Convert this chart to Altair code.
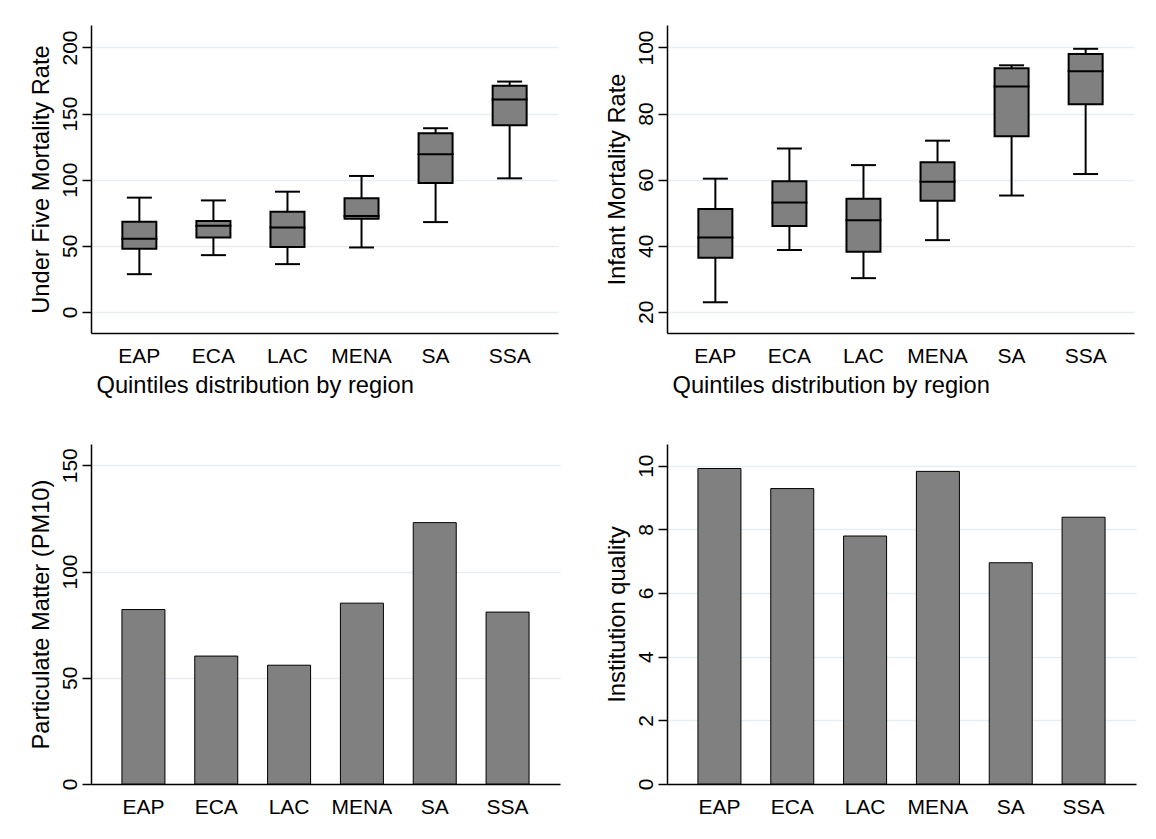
import altair as alt
import pandas as pd

regions = ["EAP", "ECA", "LAC", "MENA", "SA", "SSA"]

# Under five mortality rate: whisker low, q1, median, q3, whisker high
u5_lo = [28.5, 42.9, 36.1, 48.7, 67.9, 101.0]
u5_q1 = [47.7, 56.3, 49.0, 70.5, 97.5, 141.2]
u5_med = [55.3, 65.2, 63.9, 72.5, 119.2, 160.6]
u5_q3 = [68.2, 68.7, 75.8, 85.9, 135.1, 171.0]
u5_hi = [86.4, 84.3, 90.9, 102.8, 138.9, 174.2]

# Infant mortality rate
imr_lo = [22.9, 38.7, 30.2, 41.7, 55.2, 61.7]
imr_q1 = [36.4, 46.0, 38.2, 53.6, 73.1, 82.8]
imr_med = [42.5, 53.1, 47.7, 59.4, 88.2, 92.8]
imr_q3 = [51.1, 59.5, 54.2, 65.3, 93.7, 98.0]
imr_hi = [60.3, 69.4, 64.4, 71.8, 94.6, 99.6]

# Bar values
pm10 = [82.1, 60.2, 55.9, 85.1, 123.0, 80.9]
inst = [9.91, 9.28, 7.79, 9.82, 6.95, 8.38]

u5_ticks = [0, 50, 100, 150, 200]
imr_ticks = [20, 40, 60, 80, 100]
pm_ticks = [0, 50, 100, 150]
inst_ticks = [0, 2, 4, 6, 8, 10]

FONT = "Liberation Sans"
GRID = "#e6eef1"
FILL = "#808080"
LBL = 21
TTL = 23.7


def x_enc(pad_outer, xtitle):
    kw = dict(
        ticks=False, tickSize=0, domainColor="black", domainWidth=1.5,
        labelAngle=0, labelFontSize=LBL, labelFont=FONT, labelColor="black",
        labelBaseline="alphabetic", labelPadding=29, grid=False,
    )
    if xtitle:
        kw.update(title=xtitle, titleFont=FONT, titleFontSize=TTL,
                  titleFontWeight="normal", titleColor="black",
                  titleAlign="left", titleAnchor="start", titleX=5, titleY=59,
                  titleBaseline="alphabetic")
    else:
        kw.update(title=None)
    return alt.X("region:N", sort=regions,
                 scale=alt.Scale(paddingInner=0, paddingOuter=pad_outer),
                 axis=alt.Axis(**kw))


def y_enc(field, ytitle, domain, ticks, height):
    ax = alt.Axis(
        title=ytitle, values=ticks, grid=True, gridColor=GRID, gridWidth=1.5,
        domainColor="black", domainWidth=1.5, tickColor="black", tickWidth=1.5,
        tickSize=9, labelAngle=270, labelAlign="center",
        labelBaseline="alphabetic", labelPadding=6, labelFontSize=LBL,
        labelFont=FONT, labelColor="black", labelOverlap=False,
        titleFont=FONT, titleFontSize=TTL, titleFontWeight="normal",
        titleColor="black", titleAngle=270, titleAlign="center",
        titleBaseline="alphabetic", titleX=-43, titleY=height / 2,
    )
    return alt.Y(f"{field}:Q", scale=alt.Scale(domain=domain, nice=False, zero=False),
                 axis=ax)


def box_panel(lo, q1, med, q3, hi, ytitle, domain, ticks, width, height, pad_outer, xtitle):
    df = pd.DataFrame({"region": regions, "lo": lo, "q1": q1, "med": med,
                       "q3": q3, "hi": hi})
    x = x_enc(pad_outer, xtitle)
    base = alt.Chart(df)
    whisk = base.mark_rule(color="black", strokeWidth=2).encode(
        x=x, y=y_enc("lo", ytitle, domain, ticks, height), y2="hi")
    box = base.mark_bar(size=34, color=FILL, stroke="black", strokeWidth=2).encode(
        x=x, y=y_enc("q1", ytitle, domain, ticks, height), y2="q3")
    cap_lo = base.mark_tick(size=25, thickness=2, color="black", opacity=1).encode(
        x=x, y=y_enc("lo", ytitle, domain, ticks, height))
    cap_hi = base.mark_tick(size=25, thickness=2, color="black", opacity=1).encode(
        x=x, y=y_enc("hi", ytitle, domain, ticks, height))
    med_t = base.mark_tick(size=36, thickness=2, color="black", opacity=1).encode(
        x=x, y=y_enc("med", ytitle, domain, ticks, height))
    return alt.layer(whisk, box, cap_lo, cap_hi, med_t).properties(width=width, height=height)


def bar_panel(vals, ytitle, domain, ticks, width, height, pad_outer):
    df = pd.DataFrame({"region": regions, "v": vals})
    return alt.Chart(df).mark_bar(size=43, color=FILL, stroke="black", strokeWidth=1).encode(
        x=x_enc(pad_outer, None),
        y=y_enc("v", ytitle, domain, ticks, height),
    ).properties(width=width, height=height)


tl = box_panel(u5_lo, u5_q1, u5_med, u5_q3, u5_hi, "Under Five Mortality Rate",
               [-16, 217], u5_ticks, 467, 308, 0.153, "Quintiles distribution by region")
tr = box_panel(imr_lo, imr_q1, imr_med, imr_q3, imr_hi, "Infant Mortality Rate",
               [13.6, 106.8], imr_ticks, 467, 308, 0.153, "Quintiles distribution by region")
bl = bar_panel(pm10, "Particulate Matter (PM10)", [0, 160], pm_ticks, 469, 340, 0.22)
br = bar_panel(inst, "Institution quality", [0, 10.68], inst_ticks, 469, 340, 0.22)

chart = alt.concat(
    tl, tr, bl, br, columns=2,
    spacing={"row": 111, "column": 107}, bounds="flush",
).properties(
    padding={"left": 20, "top": 17, "right": 10, "bottom": 10},
    background="white",
).configure_view(strokeWidth=0)

chart.save("out.html", embed_options={"renderer": "svg", "actions": False})
